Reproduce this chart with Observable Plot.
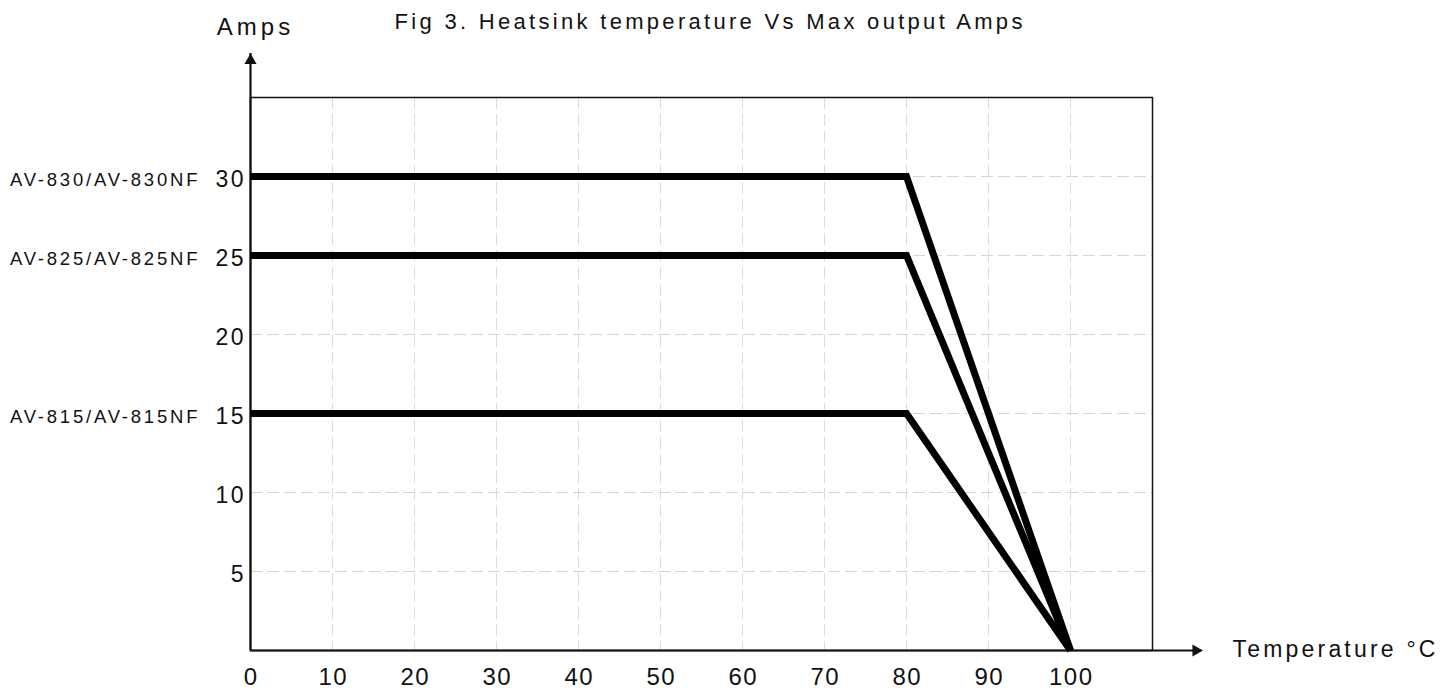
<!DOCTYPE html>
<html><head><meta charset="utf-8">
<script src="https://cdn.jsdelivr.net/npm/d3@7"></script>
<script src="https://cdn.jsdelivr.net/npm/@observablehq/plot@0.6"></script>
<style>
body{margin:0;background:#fff}
svg{font-family:"Liberation Sans",Arial,sans-serif}
</style>
</head><body><div id="chart"></div>
<script>
// Data
const temperatures = [0, 80, 100];
const models = ["AV-830/AV-830NF", "AV-825/AV-825NF", "AV-815/AV-815NF"];
const amps830 = [30, 30, 0];
const amps825 = [25, 25, 0];
const amps815 = [15, 15, 0];
const ratedAmps = [30, 25, 15];
const xTicks = [0, 10, 20, 30, 40, 50, 60, 70, 80, 90, 100];
const yTicks = [5, 10, 15, 20, 25, 30];
const xGrid = [10, 20, 30, 40, 50, 60, 70, 80, 90, 100];
const yGrid = [5, 10, 15, 20, 25, 30];
const titleText = "Fig 3. Heatsink temperature Vs Max output Amps";
const yLabel = "Amps";
const xLabel = "Temperature °C";

const seriesValues = [amps830, amps825, amps815];
const rows = models.flatMap((m, i) => temperatures.map((t, j) => ({model: m, t, a: seriesValues[i][j]})));
const labelRows = models.map((m, i) => ({model: m, a: ratedAmps[i]}));

const chart = Plot.plot({
  width: 1453,
  height: 692,
  marginLeft: 250,
  marginRight: 301,
  marginTop: 97,
  marginBottom: 42,
  style: {fontFamily: "Liberation Sans, Arial, sans-serif", color: "#111", background: "#fff", overflow: "visible"},
  x: {domain: [0, 110]},
  y: {domain: [0, 35]},
  marks: [
    Plot.ruleX(xGrid, {stroke: "#dcdcdc", strokeWidth: 1, strokeDasharray: "12,5"}),
    Plot.ruleY(yGrid, {stroke: "#d4d4d4", strokeWidth: 1, strokeDasharray: "12,5"}),
    Plot.frame({stroke: "#111", strokeWidth: 1.5}),
    Plot.ruleX([0], {y1: 0, y2: 37.78, stroke: "#111", strokeWidth: 2.2}),
    Plot.ruleY([0], {x1: 0, x2: 116, stroke: "#111", strokeWidth: 2.2}),
    Plot.dot([{x: 0, y: 37.34}], {x: "x", y: "y", symbol: "triangle", r: 4.5, fill: "#111", stroke: null}),
    Plot.dot([{x: 115.3, y: 0}], {x: "x", y: "y", symbol: "triangle", r: 4.5, fill: "#111", stroke: null, rotate: 90}),
    Plot.line(rows, {x: "t", y: "a", z: "model", stroke: "#000", strokeWidth: 7, strokeLinejoin: "miter", strokeLinecap: "butt", strokeMiterlimit: 10}),
    Plot.axisY({ticks: yTicks, tickSize: 0, tickPadding: 7, dy: 3, fontSize: 23, label: null, anchor: "left"}),
    Plot.axisX({ticks: xTicks, tickSize: 0, tickPadding: 17, fontSize: 24, label: null, anchor: "bottom"}),
    Plot.text(labelRows, {x: () => 0, y: "a", text: "model", dx: -53, dy: 4, textAnchor: "end", fontSize: 18.5, fill: "#111"}),
    Plot.text([yLabel], {frameAnchor: "top-left", dx: 3, dy: -80, textAnchor: "middle", fontSize: 24, fill: "#111"}),
    Plot.text([xLabel], {frameAnchor: "bottom-right", dx: 80, dy: 6, textAnchor: "start", fontSize: 23, fill: "#111"}),
    Plot.text([titleText], {frameAnchor: "top", dx: 7, dy: -84, textAnchor: "middle", fontSize: 22, fill: "#111"})
  ]
});
document.getElementById("chart").appendChild(chart);

// widen the lettering like the reference (extra px between letters)
const groupSpacing = {"y-axis tick label": 2.5, "x-axis tick label": 1.5};
const textSpacing = new Map([[titleText, 3.3], [yLabel, 4], [xLabel, 3.2], ...models.map((m) => [m, 2.8])]);
d3.select(chart).selectAll("text").each(function () {
  const content = this.textContent || "";
  const g = this.closest("g[aria-label]");
  const key = g ? g.getAttribute("aria-label") : null;
  const s = textSpacing.has(content) ? textSpacing.get(content) : groupSpacing[key];
  if (s == null) return;
  const n = content.length;
  if (n < 2) return;
  const natural = this.getComputedTextLength();
  this.setAttribute("textLength", (natural + s * (n - 1)).toFixed(1));
  this.setAttribute("lengthAdjust", "spacing");
});
</script>
</body></html>
